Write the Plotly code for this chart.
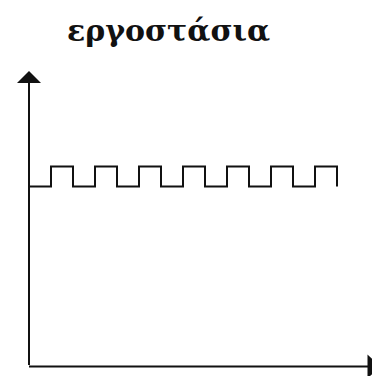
import plotly.graph_objects as go

# Data: square wave step times (arbitrary units) and levels
step_times = [0, 1, 2, 3, 4, 5, 6, 7, 8, 9, 10, 11, 12, 13, 14]
levels = [9, 10, 9, 10, 9, 10, 9, 10, 9, 10, 9, 10, 9, 10, 9]
title_text = "εργοστάσια"

fig = go.Figure()
fig.add_trace(go.Scatter(
    x=step_times, y=levels, mode="lines",
    line=dict(shape="hv", color="#111111", width=2),
    hoverinfo="skip", showlegend=False,
))

W, H = 372, 376
x0px, y0px = 29, 366.5
ux, uy = 22.0, 20.0

fig.update_layout(
    width=W, height=H,
    margin=dict(l=0, r=0, t=0, b=0),
    paper_bgcolor="white", plot_bgcolor="white",
    xaxis=dict(range=[-x0px / ux, (W - x0px) / ux], visible=False, fixedrange=True),
    yaxis=dict(range=[-(H - y0px) / uy, y0px / uy], visible=False, fixedrange=True),
    showlegend=False,
)

# Y axis with arrow
fig.add_annotation(
    x=0, y=(y0px - 71) / uy, xref="x", yref="y",
    ax=0, ay=0, axref="x", ayref="y",
    showarrow=True, arrowhead=1, arrowsize=2, arrowwidth=2, arrowcolor="#111111",
    text="",
)
# X axis line and (partly cut) arrow head
fig.add_shape(type="line", xref="paper", yref="paper",
              x0=x0px / W, x1=1.0, y0=(H - y0px) / H, y1=(H - y0px) / H,
              line=dict(color="#111111", width=2))
fig.add_shape(type="path", xref="paper", yref="paper",
              path="M {a},{b} L {a},{c} L {d},{e} Z".format(
                  a=367.5 / W, b=(H - y0px + 12) / H, c=(H - y0px - 12) / H,
                  d=380 / W, e=(H - y0px) / H),
              fillcolor="#111111", line=dict(width=0))

fig.add_annotation(
    x=168 / W, y=1 - 31 / H, xref="paper", yref="paper",
    text="<b>" + title_text + "</b>", showarrow=False,
    font=dict(family="DejaVu Serif", size=30, color="#111111"),
    xanchor="center", yanchor="middle",
)

fig.write_html("out.html", post_script="document.body.style.margin='0px';",
               config={"displayModeBar": False})
